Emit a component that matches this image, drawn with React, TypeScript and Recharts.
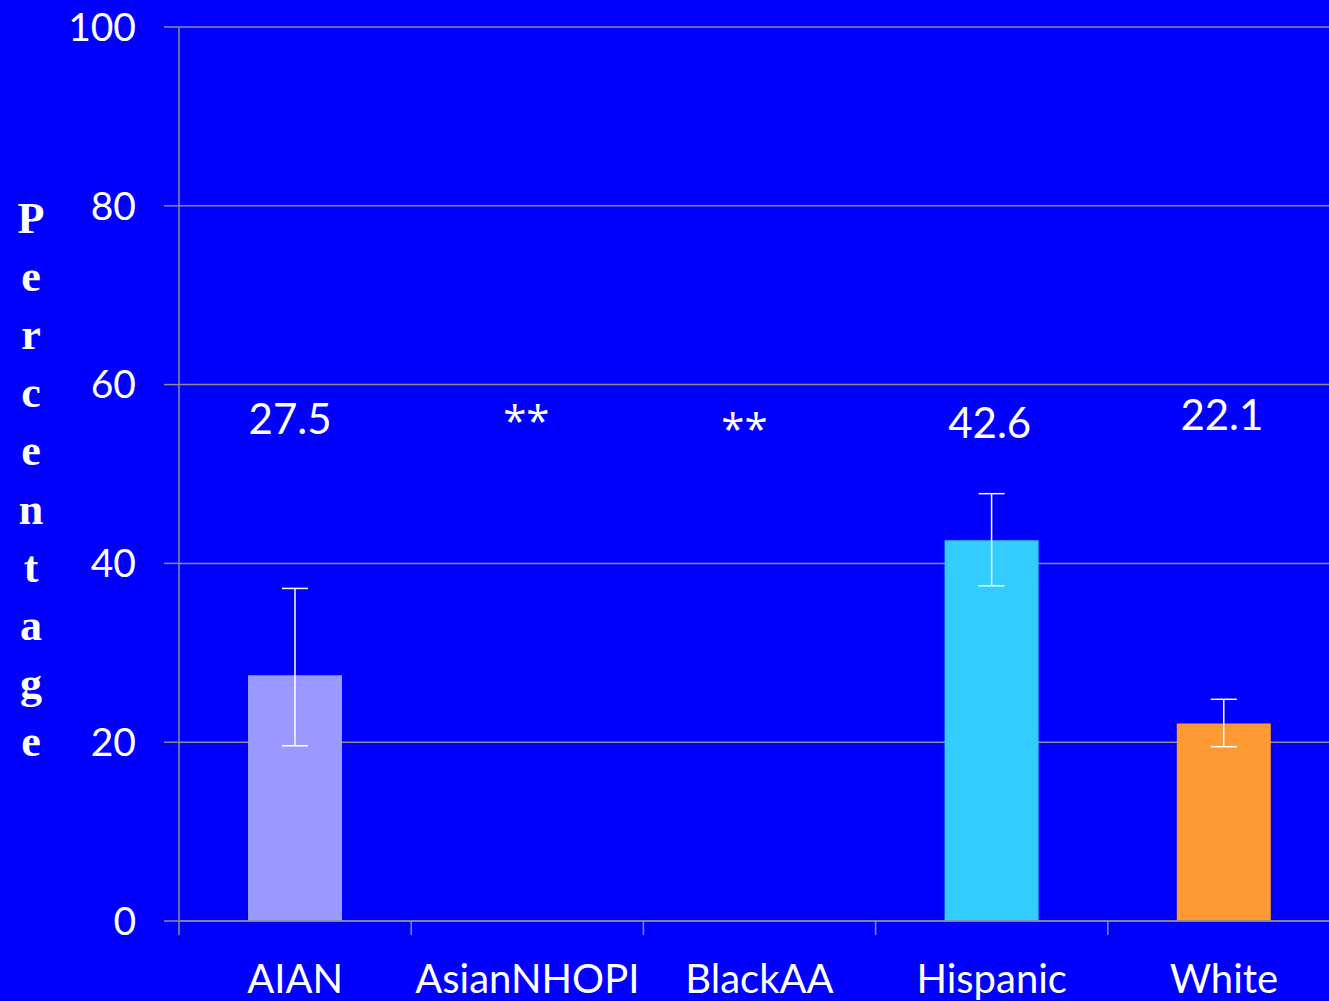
import { BarChart, Bar, XAxis, YAxis, CartesianGrid, ErrorBar, Cell, useOffset, useChartWidth } from 'recharts'

const groups = ['AIAN', 'AsianNHOPI', 'BlackAA', 'Hispanic', 'White']
const values = [27.5, 0, 0, 42.6, 22.1]
const errors: ([number, number] | null)[] = [[7.9, 9.7], null, null, [5.1, 5.2], [2.6, 2.7]]
const labels = ['27.5', '**', '**', '42.6', '22.1']
const colors = ['#9999FF', '#9999FF', '#9999FF', '#33CCFF', '#FF9933']
const yTicks = [0, 20, 40, 60, 80, 100]
const titleLetters = 'Percentage'.split('')

const data = groups.map((g, i) => ({ group: g, value: values[i], err: errors[i] }))

const FONT = 'Lato, "Open Sans", sans-serif'
const GRID = '#8C8C8C'
const BAND = 232.2
// small nudges so the value labels sit where the original slide put them
const labelNudge = [[-5, 0], [-1, -8], [-15, 0], [-2, 4], [-2, -4]]

function ValueLabels() {
  const offset = useOffset()
  const chartWidth = useChartWidth()
  if (!offset || !chartWidth) return null
  const plotW = chartWidth - offset.left - offset.right
  const step = plotW / labels.length
  return (
    <g>
      {labels.map((l, i) => {
        const [dx, dy] = labelNudge[i]
        const star = l === '**'
        return (
          <text
            key={i}
            x={offset.left + step * (i + 0.5) + dx}
            y={434 + dy + (star ? 10 : 0)}
            fill="#fff"
            fontSize={star ? 42 : 42}
            fontFamily={star ? '"Open Sans", sans-serif' : FONT}
            textAnchor="middle"
          >
            {l}
          </text>
        )
      })}
    </g>
  )
}

function GroupTick(props: any) {
  const { x, y, payload, index } = props
  const top = y - 44
  return (
    <g>
      <line x1={x - BAND / 2} x2={x - BAND / 2} y1={top} y2={top + 14} stroke={GRID} strokeWidth={1.5} />
      {index === groups.length - 1 && (
        <line x1={x + BAND / 2} x2={x + BAND / 2} y1={top} y2={top + 14} stroke={GRID} strokeWidth={1.5} />
      )}
      <text x={x} y={y + 28} fill="#fff" fontSize={40} fontFamily={FONT} textAnchor="middle">
        {payload.value}
      </text>
    </g>
  )
}

export default function App() {
  return (
    <div style={{ position: 'fixed', left: 0, top: 0, width: 1329, height: 1001, overflow: 'hidden', background: '#0000FF' }}>
      <BarChart width={1341} height={1001} data={data} margin={{ top: 27, right: 1, bottom: 0, left: 0 }} barSize={94}>
        <CartesianGrid horizontal vertical={false} stroke={GRID} strokeWidth={1.5} />
        <XAxis
          dataKey="group"
          height={80}
          stroke={GRID}
          strokeWidth={1.5}
          tickLine={false}
          tickSize={14}
          tickMargin={30}
          interval={0}
          tick={<GroupTick />}
        />
        <YAxis
          width={179}
          domain={[0, 100]}
          ticks={yTicks}
          stroke={GRID}
          strokeWidth={1.5}
          tickSize={15}
          tickMargin={28}
          tick={{ fill: '#fff', fontSize: 39, fontFamily: FONT }}
        />
        <Bar dataKey="value" isAnimationActive={false}>
          {data.map((d, i) => (
            <Cell key={d.group} fill={colors[i]} />
          ))}
          <ErrorBar dataKey="err" width={13} stroke="#fff" strokeWidth={1.5} />
        </Bar>
        <ValueLabels />
      </BarChart>
      <svg style={{ position: 'absolute', left: 0, top: 0 }} width={70} height={1001}>
        {titleLetters.map((c, i) => (
          <text
            key={i}
            x={31}
            y={233 + i * 58.1}
            fill="#fff"
            fontSize={44}
            fontWeight="bold"
            fontFamily='"Liberation Serif", "Times New Roman", serif'
            textAnchor="middle"
          >
            {c}
          </text>
        ))}
      </svg>
    </div>
  )
}
